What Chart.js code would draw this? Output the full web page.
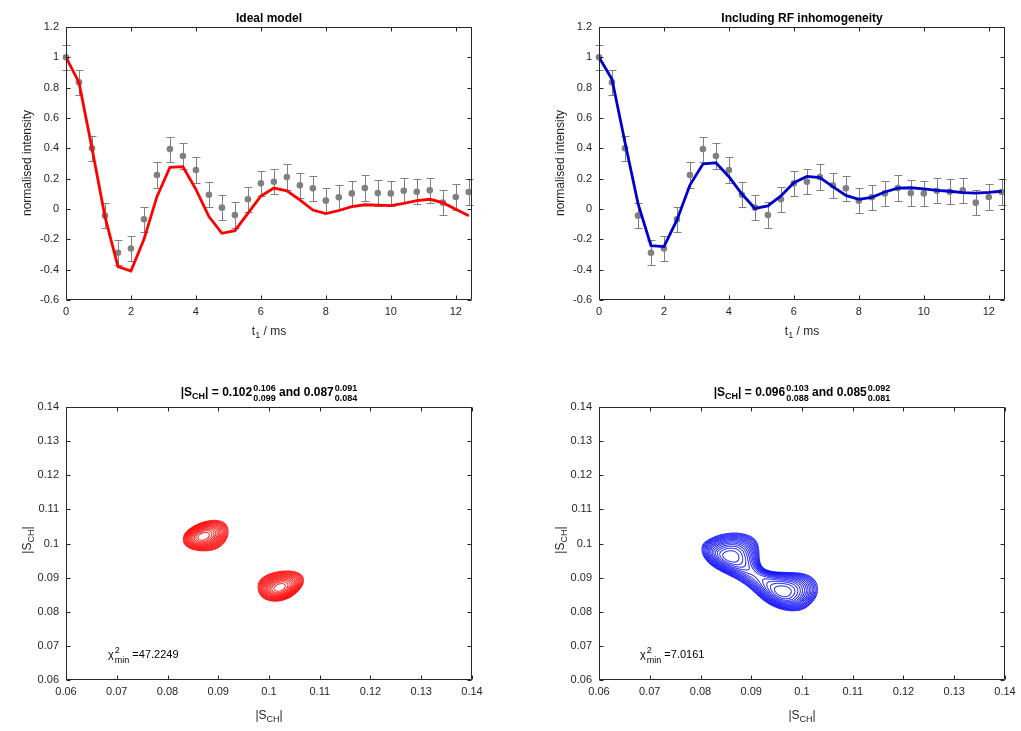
<!DOCTYPE html>
<html>
<head>
<meta charset="utf-8">
<title>Order parameter fits</title>
<script src="https://cdn.jsdelivr.net/npm/chart.js@4.4.1/dist/chart.umd.min.js"></script>
<style>
    html, body { margin: 0; padding: 0; background: #fff; overflow: hidden; }
    body { width: 1021px; height: 731px; position: relative; font-family: 'Liberation Sans', Arial, sans-serif; color: #262626; }
    canvas { position: absolute; }
    .lbl { position: absolute; font-size: 12px; white-space: nowrap; transform: translate(-50%, -50%); }
    .rot { transform: translate(-50%, -50%) rotate(-90deg); }
    .ttl { position: absolute; font-size: 12px; font-weight: bold; color: #000; white-space: nowrap; transform: translate(-50%, -50%); }
    .note { position: absolute; font-size: 11px; white-space: nowrap; transform: translate(0, -50%); color: #000; }
    sub { font-size: 9px; vertical-align: -3px; line-height: 0; }
    .ss { display: inline-block; vertical-align: middle; font-size: 9px; line-height: 10px; margin-left: 1px; }
    .ss span { display: block; }
</style>
</head>
<body>
<canvas id="ideal-curve" width="500" height="330" style="left:0;top:0"></canvas>
<canvas id="rf-curve" width="507" height="330" style="left:533px;top:0"></canvas>
<canvas id="ideal-map" width="500" height="340" style="left:0;top:370px"></canvas>
<canvas id="rf-map" width="507" height="340" style="left:533px;top:370px"></canvas>

<div class="ttl" style="left:269px;top:18px">Ideal model</div>
<div class="ttl" style="left:802px;top:18px">Including RF inhomogeneity</div>
<div class="lbl" style="left:269px;top:331px">t<sub>1</sub> / ms</div>
<div class="lbl" style="left:802px;top:331px">t<sub>1</sub> / ms</div>
<div class="lbl rot" style="left:27px;top:163px">normalised intensity</div>
<div class="lbl rot" style="left:560px;top:163px">normalised intensity</div>

<div class="ttl" id="ideal-title" style="left:269px;top:393px"></div>
<div class="ttl" id="rf-title" style="left:802px;top:393px"></div>
<div class="lbl" style="left:269px;top:715px">|S<sub>CH</sub>|</div>
<div class="lbl" style="left:802px;top:715px">|S<sub>CH</sub>|</div>
<div class="lbl rot" style="left:27px;top:540px">|S<sub>CH</sub>|</div>
<div class="lbl rot" style="left:560px;top:540px">|S<sub>CH</sub>|</div>
<div class="note" id="ideal-chi" style="left:108px;top:655px"></div>
<div class="note" id="rf-chi" style="left:640px;top:655px"></div>

<script>
// --- signal decay: measured points and the two model curves ---
const tValues = [0, 0.4, 0.8, 1.2, 1.6, 2, 2.4, 2.8, 3.2, 3.6, 4, 4.4, 4.8, 5.2, 5.6, 6,
    6.4, 6.8, 7.2, 7.6, 8, 8.4, 8.8, 9.2, 9.6, 10, 10.4, 10.8, 11.2, 11.6, 12, 12.4];
const measured = [1.0, 0.835, 0.40, -0.044, -0.288, -0.26, -0.068, 0.224, 0.395, 0.349, 0.257, 0.094, 0.009, -0.04, 0.064, 0.169,
    0.18, 0.211, 0.156, 0.136, 0.055, 0.077, 0.103, 0.138, 0.105, 0.103, 0.12, 0.114, 0.123, 0.042, 0.079, 0.112];
const errorBars = [0.083, 0.083, 0.083, 0.083, 0.083, 0.083, 0.083, 0.083, 0.083, 0.083, 0.083, 0.083, 0.083, 0.083, 0.083, 0.083,
    0.083, 0.083, 0.083, 0.083, 0.083, 0.083, 0.083, 0.083, 0.083, 0.083, 0.083, 0.083, 0.083, 0.083, 0.083, 0.083];
const idealModel = [1.0, 0.835, 0.40, -0.05, -0.38, -0.409, -0.2, 0.081, 0.275, 0.279, 0.13, -0.05, -0.16, -0.143, -0.029, 0.086,
    0.138, 0.12, 0.06, -0.007, -0.03, -0.01, 0.015, 0.028, 0.026, 0.022, 0.037, 0.055, 0.064, 0.042, -0.002, -0.044];
const rfModel = [1.0, 0.855, 0.44, 0.037, -0.242, -0.248, -0.072, 0.158, 0.297, 0.305, 0.213, 0.099, 0.004, 0.02, 0.086, 0.173,
    0.215, 0.207, 0.147, 0.09, 0.064, 0.077, 0.112, 0.138, 0.14, 0.132, 0.123, 0.117, 0.108, 0.105, 0.11, 0.117];

const timeTicks = [0, 2, 4, 6, 8, 10, 12];
const intensityTicks = [-0.6, -0.4, -0.2, 0, 0.2, 0.4, 0.6, 0.8, 1, 1.2];
const orderTicks = [0.06, 0.07, 0.08, 0.09, 0.1, 0.11, 0.12, 0.13, 0.14];

// --- chi-square maps: best fits [value, upper, lower] and minima ---
const idealFit = [[0.102, 0.106, 0.099], [0.087, 0.091, 0.084]];
const rfFit = [[0.096, 0.103, 0.088], [0.085, 0.092, 0.081]];
const idealChiMin = '47.2249';
const rfChiMin = '7.0161';
const idealMinima = [[0.087, 0.102], [0.102, 0.087]];
const rfMinima = [[0.0858, 0.0961], [0.0961, 0.0858]];
// widths of the valley: along diagonal (below / above minimum), across diagonal
const idealWidths = [0.0011, 0.0015, 0.0009];
const rfWidths = [0.00111, 0.00191, 0.00168];
const idealNeck = 0;
const rfNeck = 0.62;
const contourLevels = [1, 2, 3, 4, 5, 6, 7, 8, 9, 10, 11, 12, 13, 14, 15];

Chart.defaults.font.family = "'Liberation Sans', Arial, sans-serif";
Chart.defaults.font.size = 11;
Chart.defaults.color = '#262626';

const fmtTick = v => String(Math.round(v * 100) / 100);

// MATLAB-like box with inward ticks on all four sides
const matlabBox = {
    id: 'matlabBox',
    afterDatasetsDraw(chart) {
        const { ctx, chartArea: a, scales: { x, y } } = chart;
        const L = Math.round(a.left) + 0.5, R = Math.round(a.right) - 0.5;
        const T = Math.round(a.top) + 0.5, B = Math.round(a.bottom) - 0.5;
        ctx.save();
        ctx.strokeStyle = '#262626';
        ctx.lineWidth = 1;
        ctx.beginPath();
        ctx.rect(L, T, R - L, B - T);
        x.ticks.forEach(t => {
            const px = Math.round(x.getPixelForValue(t.value)) + 0.5;
            ctx.moveTo(px, B); ctx.lineTo(px, B - 4);
            ctx.moveTo(px, T); ctx.lineTo(px, T + 4);
        });
        y.ticks.forEach(t => {
            const py = Math.round(y.getPixelForValue(t.value)) + 0.5;
            ctx.moveTo(L, py); ctx.lineTo(L + 4, py);
            ctx.moveTo(R, py); ctx.lineTo(R - 4, py);
        });
        ctx.stroke();
        ctx.restore();
    }
};

const errorBarPlugin = {
    id: 'errorBars',
    beforeDatasetsDraw(chart) {
        const { ctx, scales: { x, y } } = chart;
        chart.data.datasets.forEach(ds => {
            if (!ds.errorBars) return;
            ctx.save();
            ctx.strokeStyle = ds.backgroundColor;
            ctx.lineWidth = 1;
            ctx.beginPath();
            ds.data.forEach((p, i) => {
                const px = Math.round(x.getPixelForValue(p.x)) + 0.5;
                const top = Math.round(y.getPixelForValue(p.y + ds.errorBars[i])) + 0.5;
                const bot = Math.round(y.getPixelForValue(p.y - ds.errorBars[i])) + 0.5;
                ctx.moveTo(px, top); ctx.lineTo(px, bot);
                ctx.moveTo(px - 4, top); ctx.lineTo(px + 4, top);
                ctx.moveTo(px - 4, bot); ctx.lineTo(px + 4, bot);
            });
            ctx.stroke();
            ctx.restore();
        });
    }
};

function axis(min, max, ticks, size, padding) {
    return {
        type: 'linear',
        min: min,
        max: max,
        grid: { display: false, drawTicks: false },
        border: { display: false },
        ticks: { padding: padding, autoSkip: false, maxRotation: 0, callback: fmtTick },
        afterBuildTicks: s => { s.ticks = ticks.map(v => ({ value: v })); },
        afterFit: s => { if (s.isHorizontal()) s.height = size; else s.width = size; }
    };
}

function baseOptions(padding, xAxis, yAxis) {
    return {
        responsive: false,
        animation: false,
        devicePixelRatio: 1,
        events: [],
        layout: { padding: padding },
        plugins: { legend: { display: false }, tooltip: { enabled: false } },
        scales: { x: xAxis, y: yAxis }
    };
}

function makeCurveChart(id, model, colour, rightPad) {
    new Chart(document.getElementById(id), {
        type: 'scatter',
        data: {
            datasets: [{
                data: tValues.map((t, i) => ({ x: t, y: model[i] })),
                showLine: true,
                borderColor: colour,
                borderWidth: 2.8,
                pointRadius: 0,
                tension: 0
            }, {
                data: tValues.map((t, i) => ({ x: t, y: measured[i] })),
                errorBars: errorBars,
                backgroundColor: '#808080',
                borderWidth: 0,
                pointRadius: 3.3,
                clip: false
            }]
        },
        options: baseOptions({ left: 0, top: 27, right: rightPad, bottom: 0 },
            axis(0, 12.5, timeTicks, 30, 5), axis(-0.6, 1.2, intensityTicks, 66, 7)),
        plugins: [errorBarPlugin, matlabBox]
    });
}

// chi-square surface: double well across the diagonal, quadratic along it
function chiSurface(minima, widths, neck) {
    const [[xa, ya], [xb, yb]] = minima;
    const u0 = (xa + ya + xb + yb) / 2 / Math.SQRT2;
    const v0 = (Math.abs(ya - xa) + Math.abs(yb - xb)) / 2 / Math.SQRT2;
    const [sLow, sHigh, sAcross] = widths;
    const barrier = v0 * v0 / (4 * sAcross * sAcross);
    return (x, y) => {
        const u = (x + y) / Math.SQRT2 - u0;
        const v = Math.abs(y - x) / Math.SQRT2;
        const across = v >= v0 ? ((v - v0) / sAcross) ** 2 : barrier * (v * v / (v0 * v0) - 1) ** 2;
        const sAlong = u < 0 ? sLow : sHigh * (1 - neck * Math.exp(-v * v / (2 * (0.45 * v0) ** 2)));
        return (u / sAlong) ** 2 + across;
    };
}

// marching squares -> line segments separated by gaps
function contourPoints(surface, levels) {
    const lo = 0.072, hi = 0.116, step = 0.00012;
    const n = Math.round((hi - lo) / step);
    const vals = new Float64Array((n + 1) * (n + 1));
    for (let j = 0; j <= n; j++)
        for (let i = 0; i <= n; i++) vals[j * (n + 1) + i] = surface(lo + i * step, lo + j * step);
    const lerp = (p, q, fp, fq, L) => p + (q - p) * (L - fp) / (fq - fp);
    const gap = () => ({ x: null, y: null });
    const pts = [];
    levels.forEach(L => {
        for (let j = 0; j < n; j++) {
            for (let i = 0; i < n; i++) {
                const a = vals[j * (n + 1) + i], b = vals[j * (n + 1) + i + 1];
                const c = vals[(j + 1) * (n + 1) + i + 1], d = vals[(j + 1) * (n + 1) + i];
                const x0 = lo + i * step, x1 = x0 + step, y0 = lo + j * step, y1 = y0 + step;
                const cross = [];
                if ((a > L) !== (b > L)) cross.push({ x: lerp(x0, x1, a, b, L), y: y0 });
                if ((b > L) !== (c > L)) cross.push({ x: x1, y: lerp(y0, y1, b, c, L) });
                if ((d > L) !== (c > L)) cross.push({ x: lerp(x0, x1, d, c, L), y: y1 });
                if ((a > L) !== (d > L)) cross.push({ x: x0, y: lerp(y0, y1, a, d, L) });
                if (cross.length === 2) {
                    pts.push(cross[0], cross[1], gap());
                } else if (cross.length === 4) {
                    const centre = (a + b + c + d) / 4 > L;
                    if ((a > L) === centre) pts.push(cross[0], cross[1], gap(), cross[2], cross[3], gap());
                    else pts.push(cross[0], cross[3], gap(), cross[1], cross[2], gap());
                }
            }
        }
    });
    return pts;
}

function makeMapChart(id, minima, widths, neck, colour, rightPad) {
    new Chart(document.getElementById(id), {
        type: 'scatter',
        data: {
            datasets: [{
                data: contourPoints(chiSurface(minima, widths, neck), contourLevels),
                showLine: true,
                spanGaps: false,
                borderColor: colour,
                borderWidth: 1,
                pointRadius: 0
            }]
        },
        options: baseOptions({ left: 0, top: 37, right: rightPad, bottom: 0 },
            axis(0.06, 0.14, orderTicks, 30, 5), axis(0.06, 0.14, orderTicks, 66, 7)),
        plugins: [matlabBox]
    });
}

const stack = (hi, lo) => `<span class="ss"><span>${hi}</span><span>${lo}</span></span>`;
const fitTitle = fit => `|S<sub>CH</sub>| = ${fit[0][0].toFixed(3)}${stack(fit[0][1].toFixed(3), fit[0][2].toFixed(3))}`
    + ` and ${fit[1][0].toFixed(3)}${stack(fit[1][1].toFixed(3), fit[1][2].toFixed(3))}`;
document.getElementById('ideal-title').innerHTML = fitTitle(idealFit);
document.getElementById('rf-title').innerHTML = fitTitle(rfFit);
document.getElementById('ideal-chi').innerHTML = `χ${stack('2', 'min')} =${idealChiMin}`;
document.getElementById('rf-chi').innerHTML = `χ${stack('2', 'min')} =${rfChiMin}`;

makeCurveChart('ideal-curve', idealModel, '#ff0000', 28);
makeCurveChart('rf-curve', rfModel, '#0000cc', 35);
makeMapChart('ideal-map', idealMinima, idealWidths, idealNeck, '#ff0000', 28);
makeMapChart('rf-map', rfMinima, rfWidths, rfNeck, '#0000ff', 35);
</script>
</body>
</html>
